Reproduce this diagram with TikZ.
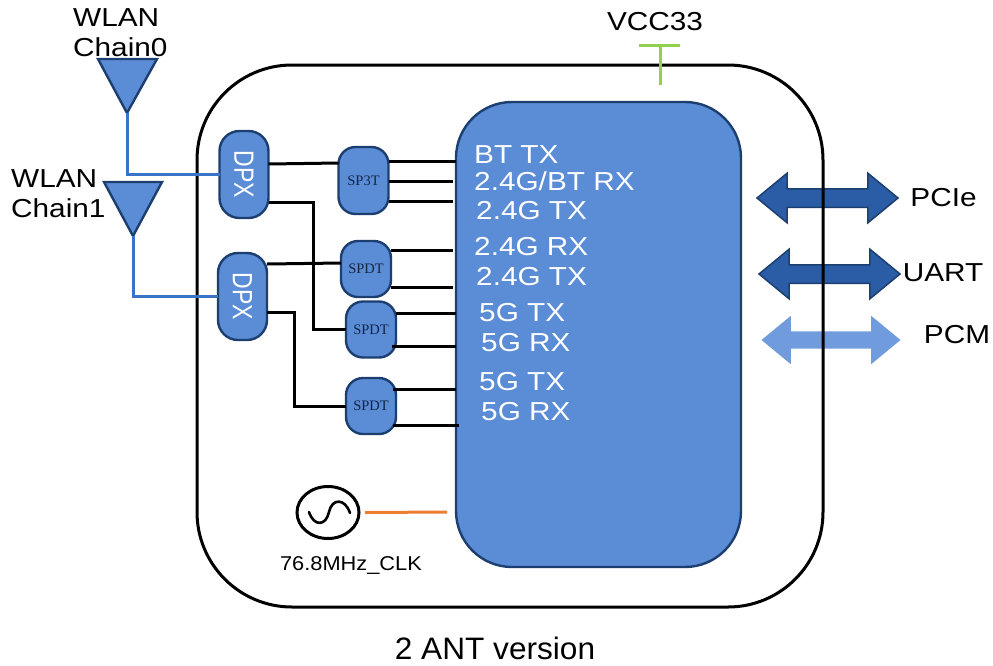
\documentclass[tikz,border=0pt]{standalone}
\usepackage{fontspec}
\setmainfont[FakeStretch=1.145]{Liberation Sans}
\newfontfamily\plainsans{Liberation Sans}
\newfontfamily\midsans[FakeStretch=1.09]{Liberation Sans}
\newfontfamily\versans[FakeStretch=1.02]{Liberation Sans}
\newfontfamily\serifchip{Liberation Serif}
\usetikzlibrary{shapes.arrows,shapes.geometric,calc}
\definecolor{chipfill}{HTML}{5B8CD6}
\definecolor{chipline}{HTML}{1D3F70}
\definecolor{wireblue}{HTML}{3A74C8}
\definecolor{darkarrow}{HTML}{2A5DA6}
\definecolor{lightarrow}{HTML}{709CDD}
\definecolor{vccgreen}{HTML}{92D050}
\definecolor{clkorange}{HTML}{ED7D31}
\tikzset{
  x=1pt,y=-1pt,
  chipbox/.style={draw=chipline,fill=chipfill,line width=2.4pt,inner sep=0pt,outer sep=0pt},
  dpxbox/.style={chipbox,minimum width=49pt,minimum height=87pt,rounded corners=20pt,text=white,font=\plainsans\fontsize{24}{24}\selectfont},
  swbox/.style={chipbox,minimum width=50pt,minimum height=56pt,rounded corners=17pt,text=chipline!60!black,font=\serifchip\fontsize{14.5}{14.5}\selectfont},
  sig/.style={line width=3pt,black},
  rf/.style={line width=3pt,wireblue},
  lab/.style={inner sep=0pt,align=left,font=\fontsize{26}{30}\selectfont,text=black},
  chiplab/.style={inner sep=0pt,anchor=west,text=white,font=\fontsize{26}{26}\selectfont},
  busarrow/.style={shape=double arrow,double arrow head extend=15.5pt,double arrow tip angle=79,minimum height=141pt,inner sep=8.5pt,outer sep=0pt},
  ant/.style={draw=chipline,fill=chipfill,line width=2.4pt,line join=miter},
}
\begin{document}
\begin{tikzpicture}
\useasboundingbox (0,0) rectangle (993,665);
% bus arrows (behind outer outline)
\node[busarrow,draw=chipline,fill=darkarrow,line width=1.5pt] (pcie) at (827.5,198) {};
\node[busarrow,draw=chipline,fill=darkarrow,line width=1.5pt] (uart) at (829.5,274) {};
\node[busarrow,fill=lightarrow,minimum height=139pt] (pcm) at (831,340) {};
% outer outline
\node[draw=black,line width=3pt,minimum width=626pt,minimum height=542pt,rounded corners=95pt,inner sep=0pt,outer sep=0pt] (module) at (510,336) {};
% chip
\node[chipbox,minimum width=285pt,minimum height=465pt,rounded corners=56pt] (chip) at (598.5,334.5) {};
% antennas
\coordinate (a0l) at (98,59); \coordinate (a0r) at (157,59); \coordinate (a0) at (127,113);
\coordinate (a1l) at (104,182); \coordinate (a1r) at (162,182); \coordinate (a1) at (133,236);
\draw[ant] (a0l) -- (a0r) -- (a0) -- cycle;
\draw[ant] (a1l) -- (a1r) -- (a1) -- cycle;
% boxes
\node[dpxbox] (dpxa) at (244,174.5) {\rotatebox{-90}{\scalebox{0.96}[1.16]{DPX}}};
\node[dpxbox] (dpxb) at (242.5,296.5) {\rotatebox{-90}{\scalebox{0.96}[1.16]{DPX}}};
\node[swbox,minimum height=67pt] (swa) at (363.5,180.5) {SP3T};
\node[swbox] (swb) at (366,269) {SPDT};
\node[swbox] (swc) at (371,329.5) {SPDT};
\node[swbox] (swd) at (371,406) {SPDT};
% RF wires
\draw[rf] (a0) |- (dpxa.west);
\draw[rf] (a1) |- (dpxb.west);
% black wires
\draw[sig] (dpxa.east |- 0,164) -- (swa.west |- 0,163);
\draw[sig] (dpxa.east |- 0,202) -- (313,202) |- (swc.west);
\draw[sig] (dpxb.east |- 0,264) -- (swb.west |- 0,263);
\draw[sig] (dpxb.east |- 0,312) -- (294,312) |- (swd.west);
\draw[sig] (swa.east |- 0,161) -- (chip.west |- 0,161);
\draw[sig] (swa.east |- 0,181) -- (453,181);
\draw[sig] (swa.east |- 0,201) -- (453,201);
\draw[sig] (swb.east |- 0,250) -- (453,250);
\draw[sig] (swb.east |- 0,287) -- (453,287);
\draw[sig] (swc.east |- 0,313) -- (chip.west |- 0,313);
\draw[sig] (392,346) -- (chip.west |- 0,346);
\draw[sig] (393,389) -- (chip.west |- 0,389);
\draw[sig] (393,425) -- (459,425);
% chip labels
\node[chiplab] (l1) at (474,155) {BT TX};
\node[chiplab] (l2) at (474,181) {2.4G/BT RX};
\node[chiplab] (l3) at (476,211) {2.4G TX};
\node[chiplab] (l4) at (474,247) {2.4G RX};
\node[chiplab] (l5) at (476,277) {2.4G TX};
\node[chiplab] (l6) at (479,313) {5G TX};
\node[chiplab] (l7) at (481,343) {5G RX};
\node[chiplab] (l8) at (479,382) {5G TX};
\node[chiplab] (l9) at (481,412) {5G RX};
% outside labels
\node[lab,anchor=north west] (wa) at (73,8.5) {WLAN\\Chain0};
\node[lab,anchor=north west] (wb) at (11,169.5) {WLAN\\Chain1};
\node[lab] (vcc) at (655,22) {VCC33};
\node[lab] (lpcie) at (943.5,198) {PCIe};
\node[lab] (luart) at (943,273) {UART};
\node[lab] (lpcm) at (957,335) {PCM};
\node[lab,font=\versans\fontsize{31}{31}\selectfont] (ver) at (495,648) {2 ANT version};
% VCC
\coordinate (vt) at (660,45); \coordinate (vb) at (660,85);
\coordinate (vl) at (639,45); \coordinate (vr) at (680,45);
\draw[vccgreen,line width=3pt] (vl) -- (vr);
\draw[vccgreen,line width=3pt] (vt) -- (vb);
% clock
\node[ellipse,draw=black,line width=3pt,minimum width=62pt,minimum height=52pt,inner sep=0pt,outer sep=0pt] (osc) at (328,512.5) {};
\draw[black,line width=2.6pt,line cap=round] (309,512) .. controls (314,527) and (326,526) .. (329,512) .. controls (332,498) and (345,498) .. (350,513);
\coordinate (ck) at (447,512);
\draw[clkorange,line width=3pt] ($(osc.east)+(6,0)$) -- (ck);
\node[lab,font=\midsans\fontsize{20}{20}\selectfont] (clk) at (351,565) {76.8MHz\_CLK};
\end{tikzpicture}
\end{document}
